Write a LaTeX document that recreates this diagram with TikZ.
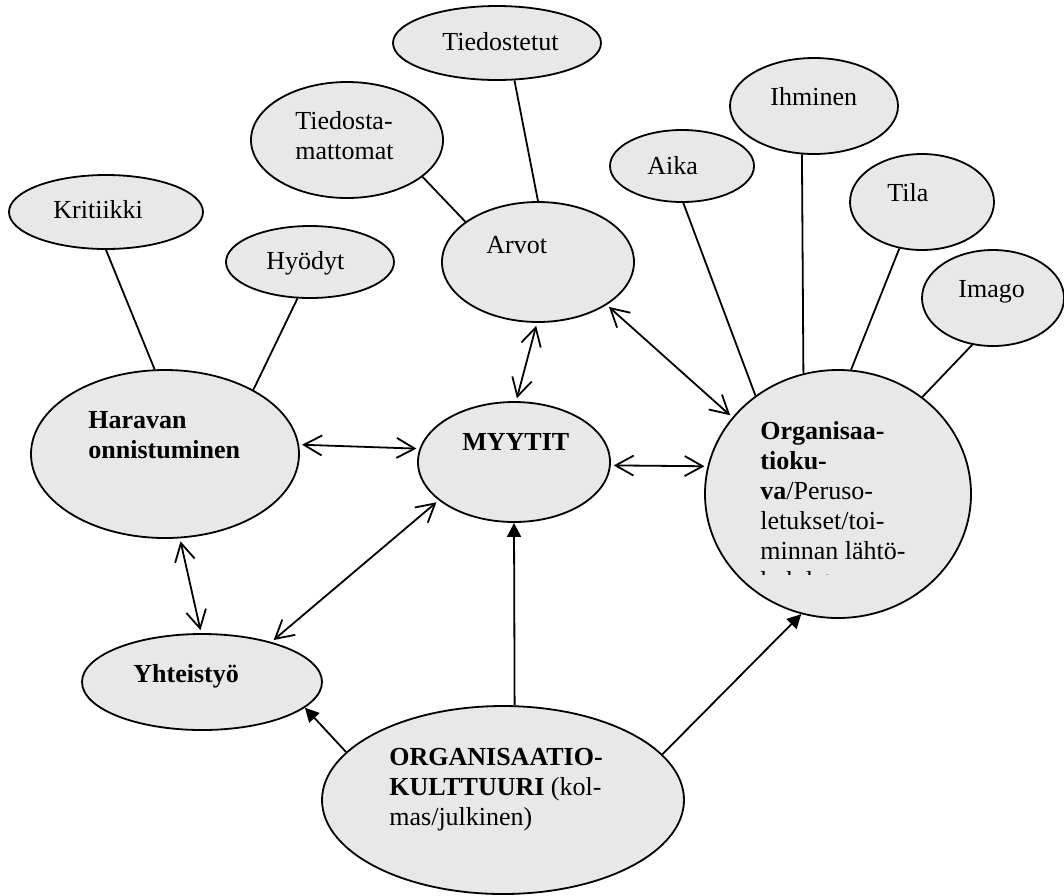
\documentclass[tikz,border=0pt]{standalone}
\usepackage{fontspec}
\setmainfont{Liberation Serif}
\usetikzlibrary{shapes.geometric,arrows.meta}
\definecolor{bubgray}{HTML}{E8E8E8}

\begin{document}
\begin{tikzpicture}[x=0.5pt,y=-0.5pt,
    bub/.style={ellipse, draw=black, line width=0.9pt, fill=bubgray, inner sep=0pt},
    lbl/.style={anchor=base west, inner sep=0pt, align=left, font=\fontsize{13}{15}\selectfont},
    link/.style={line width=0.9pt},
    both/.style={line width=0.9pt, {Straight Barb[length=9pt,width=10pt]}-{Straight Barb[length=9pt,width=10pt]}, shorten <=1.5pt, shorten >=1.5pt},
    push/.style={line width=0.9pt, -{Triangle[length=7pt,width=7pt]}}]
    \useasboundingbox (0,0) rectangle (1064,895);

    % Bubbles (centre in px, size = radii in pt)
    \node[bub, minimum width=97pt, minimum height=37pt] (kri) at (106,212) {};
    \node[bub, minimum width=84pt, minimum height=36pt] (hyo) at (310,262) {};
    \node[bub, minimum width=134pt, minimum height=84pt] (har) at (165,454) {};
    \node[bub, minimum width=104pt, minimum height=37pt] (tdt) at (497,43) {};
    \node[bub, minimum width=96pt, minimum height=58pt] (tdm) at (347,140) {};
    \node[bub, minimum width=96pt, minimum height=60pt] (arv) at (538,262) {};
    \node[bub, minimum width=72pt, minimum height=36pt] (aik) at (682,166) {};
    \node[bub, minimum width=84pt, minimum height=48pt] (ihm) at (814,106) {};
    \node[bub, minimum width=72pt, minimum height=48pt] (til) at (922,202) {};
    \node[bub, minimum width=71pt, minimum height=48pt] (ima) at (993,298) {};
    \node[bub, minimum width=96pt, minimum height=60pt] (myy) at (514,462) {};
    \node[bub, minimum width=120pt, minimum height=48pt] (yht) at (202,682) {};
    \node[bub, minimum width=133pt, minimum height=124pt] (org) at (838,494) {};
    \node[bub, minimum width=181pt, minimum height=94pt] (kul) at (503,800) {};

    % Labels (multi-line ones sit on their last baseline)
    \node[lbl] (tkri) at (53,218) {Kritiikki};
    \node[lbl] (thyo) at (266,269) {Hyödyt};
    \node[lbl] (thar) at (88,458) {\textbf{Haravan}\\\textbf{onnistuminen}};
    \node[lbl] (ttdt) at (442,50) {Tiedostetut};
    \node[lbl] (ttdm) at (295,159) {Tiedosta-\\mattomat};
    \node[lbl] (tarv) at (486,253) {Arvot};
    \node[lbl] (taik) at (647,174) {Aika};
    \node[lbl] (tihm) at (770,105) {Ihminen};
    \node[lbl] (ttil) at (887,201) {Tila};
    \node[lbl] (tima) at (958,297) {Imago};
    \node[lbl] (tmyy) at (462,450) {\textbf{MYYTIT}};
    \node[lbl] (tyht) at (133,682) {\textbf{Yhteistyö}};
    \node[lbl] (tkul) at (389,825) {\textbf{ORGANISAATIO-}\\\textbf{KULTTUURI} (kol-\\mas/julkinen)};
    % text box of the big bubble is cut off at its bottom
    \begin{scope}
        \clip (700,380) rectangle (1000,574);
        \node[lbl] (torg) at (760,589) {\textbf{Organisaa-}\\\textbf{tioku-}\\\textbf{va}/Peruso-\\letukset/toi-\\minnan lähtö-\\kohdat};
    \end{scope}

    % Plain links
    \draw[link] (kri.-90) -- (har.97.5);
    \draw[link] (hyo.-109.4) -- (har.36.1);
    \draw[link] (tdt.-65.3) -- (arv.90);
    \draw[link] (tdm.-26.9) -- (arv.151.9);
    \draw[link] (aik.-88.5) -- (org.130.3);
    \draw[link] (ihm.-104) -- (org.106.8);
    \draw[link] (til.-116.6) -- (org.84);
    \draw[link] (ima.-114.2) -- (org.49.4);

    % Two-way arrows
    \draw[both] (har.4.6) -- (myy.172.6);
    \draw[both] (myy.-2.3) -- (org.168.8);
    \draw[both] (arv.-91.8) -- (myy.88);
    \draw[both] (arv.-32) -- (org.144.3);
    \draw[both] (har.-80.4) -- (yht.91);
    \draw[both] (myy.-153.4) -- (yht.30);

    % From the culture
    \draw[push] (kul.163.4) -- (yht.-14.9);
    \draw[push] (kul.83.3) -- (myy.-90);
    \draw[push] (kul.16.7) -- (org.-107.7);
\end{tikzpicture}
\end{document}
